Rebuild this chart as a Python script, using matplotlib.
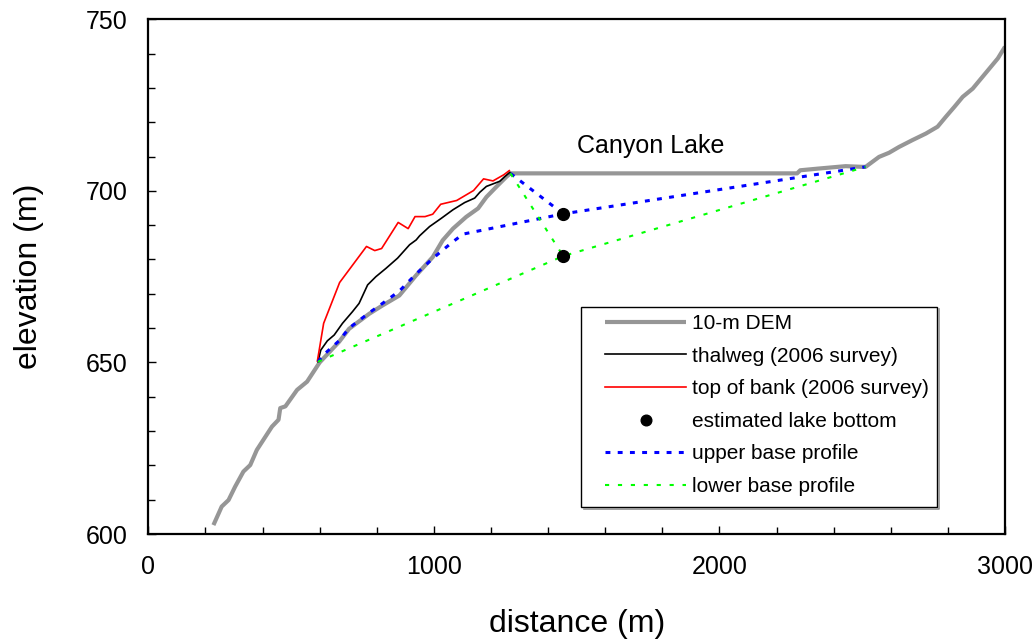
import matplotlib
matplotlib.use("Agg")
import matplotlib.pyplot as plt
import numpy as np
from matplotlib.ticker import MultipleLocator
from matplotlib.patches import Rectangle

plt.rcParams['font.family'] = ['Liberation Sans', 'DejaVu Sans']

# 10-m DEM profile
dem_x = [228, 257, 281, 304, 333, 357, 380, 433, 456, 462, 480, 521, 556, 600, 668, 703,
         774, 820, 879, 938, 996, 1031, 1067, 1113, 1155, 1184, 1219, 1254, 1268, 2272,
         2283, 2347, 2442, 2500, 2512, 2559, 2594, 2629, 2676, 2723, 2764, 2793, 2823,
         2852, 2887, 2916, 2946, 2975, 3000]
dem_y = [602.6, 608.0, 609.9, 613.8, 618.2, 620.1, 624.5, 631.3, 633.3, 636.7, 637.2,
         642.0, 644.4, 650.0, 656.0, 659.8, 664.2, 666.6, 669.5, 675.4, 680.7, 685.6,
         689.0, 692.4, 694.9, 698.2, 701.2, 704.1, 705.1, 705.1, 706.0, 706.5, 707.2,
         707.0, 707.0, 709.9, 711.1, 712.8, 714.8, 716.7, 718.7, 721.6, 724.5, 727.4,
         729.8, 732.7, 735.7, 738.6, 742.0]

# thalweg (2006 survey)
thal_x = [594, 604, 627, 651, 680, 715, 738, 768, 797, 832, 873, 915, 938, 950, 985,
          1026, 1067, 1108, 1143, 1161, 1184, 1231, 1249, 1266]
thal_y = [650.2, 653.6, 656.3, 658.0, 661.4, 664.8, 667.2, 672.6, 675.0, 677.4, 680.4,
          684.3, 685.7, 686.9, 689.6, 692.0, 694.5, 696.6, 697.9, 699.6, 701.3, 702.8,
          704.2, 705.4]

# top of bank (2006 survey)
bank_x = [592, 614, 670, 764, 793, 817, 875, 910, 934, 969, 996, 1024, 1080, 1139,
          1174, 1207, 1245, 1264]
bank_y = [650.4, 661.4, 673.3, 683.8, 682.6, 683.2, 690.8, 689.0, 692.5, 692.5, 693.2,
          696.1, 697.2, 700.1, 703.5, 702.9, 704.7, 705.9]

# estimated lake bottom
lake_x = [1453, 1453]
lake_y = [693.3, 681.0]

# upper base profile
up_x = [594, 620, 668, 703, 774, 820, 879, 938, 996, 1061, 1102, 1453, 2512]
up_y = [650.2, 652.7, 656.3, 660.0, 664.5, 667.2, 670.8, 675.8, 680.3, 684.8, 687.4,
        693.3, 707.0]
up_top_x = [1268, 1453]
up_top_y = [705.1, 693.3]

# lower base profile
low_x = [594, 1453, 2512]
low_y = [650.2, 681.0, 707.0]
low_top_x = [1268, 1453]
low_top_y = [705.1, 681.0]

fig = plt.figure(figsize=(10.35, 6.41), dpi=100)
ax = fig.add_axes([0.1433, 0.1669, 0.971 - 0.1433, 0.9699 - 0.1669])

ax.plot(dem_x, dem_y, color='#969696', lw=3.0, solid_capstyle='butt', label='10-m DEM', zorder=2)
ax.plot(thal_x, thal_y, color='black', lw=1.2, label='thalweg (2006 survey)', zorder=3)
ax.plot(bank_x, bank_y, color='#ff0000', lw=1.2, label='top of bank (2006 survey)', zorder=3)
ax.plot(lake_x, lake_y, 'o', color='black', ms=8.5, ls='none', label='estimated lake bottom', zorder=5)
blue_ls = (0, (1.6, 2.4))
green_ls = (0, (2.0, 4.2))
ax.plot(up_x, up_y, color='#0000ff', lw=2.2, ls=blue_ls, label='upper base profile', zorder=4)
ax.plot(up_top_x, up_top_y, color='#0000ff', lw=2.2, ls=blue_ls, zorder=4)
ax.plot(low_x, low_y, color='#00ff00', lw=1.5, ls=green_ls, label='lower base profile', zorder=4)
ax.plot(low_top_x, low_top_y, color='#00ff00', lw=1.5, ls=green_ls, zorder=4)

ax.text(1760, 713, 'Canyon Lake', fontsize=18, ha='center', va='center')

ax.set_xlim(0, 3000)
ax.set_ylim(600, 750)
ax.xaxis.set_major_locator(MultipleLocator(1000))
ax.xaxis.set_minor_locator(MultipleLocator(200))
ax.yaxis.set_major_locator(MultipleLocator(50))
ax.yaxis.set_minor_locator(MultipleLocator(10))
ax.tick_params(axis='both', which='both', direction='in', width=1.0)
ax.tick_params(axis='both', which='major', length=6, labelsize=18)
ax.tick_params(axis='both', which='minor', length=5)
ax.tick_params(axis='y', which='major', pad=15)
ax.tick_params(axis='x', which='major', pad=15)
for s in ax.spines.values():
    s.set_linewidth(1.6)

ax.set_xlabel('distance (m)', fontsize=23, labelpad=22)
ax.set_ylabel('elevation (m)', fontsize=23, labelpad=30)

# legend frame (drawn separately to match padding)
frame = Rectangle((0.505, 0.052), 0.416, 0.389, transform=ax.transAxes,
                  facecolor='white', edgecolor='black', lw=1.0, zorder=6)
ax.add_patch(frame)
shadow_x = [0.505 + 0.003, 0.921 + 0.002, 0.921 + 0.002]
shadow_y = [0.052 - 0.004, 0.052 - 0.004, 0.441 - 0.004]
ax.plot(shadow_x, shadow_y, color='#909090', lw=1.2, transform=ax.transAxes, zorder=6,
        clip_on=False)

leg = ax.legend(loc='upper left', bbox_to_anchor=(0.533, 0.427),
                fontsize=15, frameon=False,
                handlelength=3.9, handletextpad=0.3, labelspacing=0.65,
                borderpad=0.0, borderaxespad=0, markerscale=0.9)
leg.set_zorder(7)

fig.savefig('out.png', dpi=100)
